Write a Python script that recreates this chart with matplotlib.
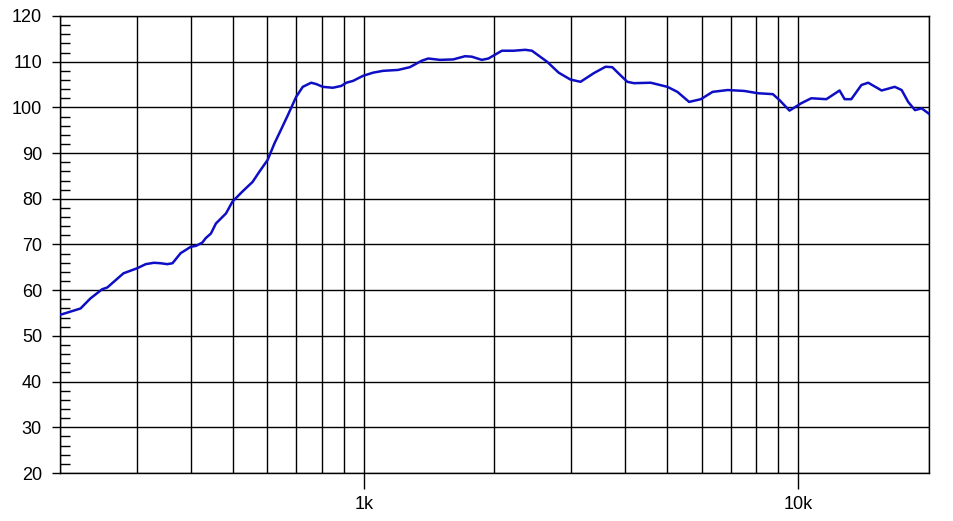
import matplotlib
matplotlib.use('Agg')
import matplotlib.pyplot as plt
from matplotlib.ticker import FixedLocator, LogLocator, NullFormatter, MultipleLocator

# frequency response
freq = [200, 223, 235, 250, 257, 280, 301, 315, 329, 341, 353, 363, 379, 400, 411,
        425, 433, 445, 457, 482, 499, 526, 555, 575, 601, 623, 645, 669, 699, 724,
        757, 778, 805, 849, 888, 912, 945, 996, 1051, 1108, 1200, 1277, 1359, 1408,
        1498, 1607, 1711, 1773, 1870, 1937, 2080, 2213, 2354, 2439, 2642, 2810, 2990,
        3155, 3386, 3603, 3733, 3902, 4044, 4188, 4576, 5000, 5272, 5610, 5970, 6353,
        6883, 7516, 8073, 8743, 9055, 9550, 10160, 10715, 11610, 12450, 12790, 13250,
        13980, 14490, 15560, 16680, 17300, 17910, 18570, 19230, 20000]
spl = [54.6, 56.0, 58.2, 60.2, 60.6, 63.7, 64.8, 65.7, 66.0, 65.9, 65.7, 65.9, 68.1,
       69.5, 69.7, 70.4, 71.4, 72.4, 74.6, 76.8, 79.4, 81.6, 83.7, 85.9, 88.5, 92.1,
       95.1, 98.3, 102.3, 104.5, 105.4, 105.1, 104.5, 104.3, 104.7, 105.4, 105.8, 106.9,
       107.6, 108.0, 108.2, 108.8, 110.2, 110.7, 110.4, 110.5, 111.2, 111.1, 110.4,
       110.7, 112.4, 112.4, 112.6, 112.4, 110.0, 107.6, 106.1, 105.6, 107.5, 108.9,
       108.8, 107.0, 105.6, 105.3, 105.4, 104.5, 103.4, 101.2, 101.8, 103.4, 103.8,
       103.6, 103.1, 102.9, 101.6, 99.3, 100.9, 102.0, 101.8, 103.7, 101.8, 101.8,
       104.9, 105.4, 103.7, 104.5, 103.8, 101.2, 99.4, 99.8, 98.6]

yticks = [20, 30, 40, 50, 60, 70, 80, 90, 100, 110, 120]
xticks = [1000, 10000]
xlabels = ['1k', '10k']

plt.rcParams['font.family'] = ['Liberation Sans', 'DejaVu Sans']

fig = plt.figure(figsize=(9.54, 5.21), dpi=100)
ax = fig.add_axes([60/954, 48/521, 869/954, 457/521])

ax.plot(freq, spl, color='#0E0EC4', lw=1.8, zorder=3)

ax.set_xscale('log')
ax.set_xlim(200, 20000)
ax.set_ylim(20, 120)

ax.xaxis.set_major_locator(FixedLocator(xticks))
ax.set_xticklabels(xlabels)
ax.xaxis.set_minor_locator(LogLocator(base=10, subs=[2, 3, 4, 5, 6, 7, 8, 9], numticks=20))
ax.xaxis.set_minor_formatter(NullFormatter())
ax.set_yticks(yticks)
ax.yaxis.set_minor_locator(MultipleLocator(2))

ax.grid(True, which='major', color='black', lw=1.0)
ax.grid(True, which='minor', axis='x', color='black', lw=1.0)

ax.tick_params(axis='x', which='major', direction='out', length=11.5, width=1.0,
               labelsize=13, pad=5)
ax.tick_params(axis='x', which='minor', length=0)
ax.tick_params(axis='y', which='major', direction='out', length=6, width=1.0,
               labelsize=13, pad=7)
ax.tick_params(axis='y', which='minor', direction='in', length=7, width=1.0)

for s in ax.spines.values():
    s.set_color('black')
    s.set_linewidth(1.0)

fig.savefig('out.png', dpi=100)
